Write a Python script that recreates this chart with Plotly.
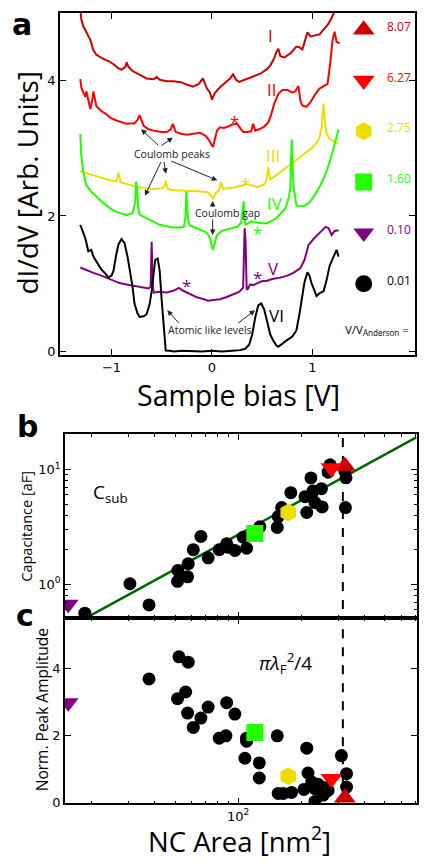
import plotly.graph_objects as go

# ---------------- Panel a: dI/dV spectra ----------------
bias_I = [-1.31, -1.30, -1.28, -1.26, -1.24, -1.21, -1.18, -1.15, -1.08, -1.02, -0.98, -0.93, -0.90, -0.86, -0.85, -0.83, -0.79, -0.72, -0.65, -0.58, -0.55, -0.52, -0.45, -0.38, -0.30, -0.25, -0.19, -0.13, -0.09, -0.05, -0.02, 0.00, 0.03, 0.08, 0.13, 0.18, 0.21, 0.24, 0.27, 0.32, 0.38, 0.44, 0.48, 0.54, 0.58, 0.62, 0.64, 0.66, 0.68, 0.72, 0.78, 0.84, 0.87, 0.90, 0.93, 0.95, 0.98, 1.02, 1.07, 1.11, 1.15, 1.19, 1.23]
didv_I = [5.05, 4.90, 4.80, 4.74, 4.70, 4.60, 4.45, 4.38, 4.32, 4.28, 4.24, 4.18, 4.16, 4.20, 4.27, 4.20, 4.14, 4.09, 4.03, 4.02, 4.05, 4.01, 3.99, 3.99, 3.97, 3.94, 3.91, 3.95, 4.03, 3.88, 3.82, 3.72, 3.82, 3.90, 3.97, 4.03, 4.09, 4.01, 3.98, 4.01, 4.04, 4.07, 4.10, 4.16, 4.22, 4.33, 4.42, 4.47, 4.36, 4.34, 4.40, 4.50, 4.49, 4.46, 4.60, 4.71, 4.65, 4.66, 4.68, 4.75, 4.82, 4.92, 5.06]

bias_II = [-1.31, -1.30, -1.28, -1.26, -1.25, -1.23, -1.21, -1.19, -1.18, -1.15, -1.10, -1.05, -1.00, -0.95, -0.85, -0.77, -0.74, -0.72, -0.70, -0.68, -0.63, -0.58, -0.50, -0.45, -0.41, -0.39, -0.36, -0.30, -0.25, -0.18, -0.12, -0.06, -0.03, 0.00, 0.01, 0.03, 0.05, 0.08, 0.12, 0.16, 0.20, 0.25, 0.28, 0.31, 0.35, 0.39, 0.41, 0.43, 0.47, 0.52, 0.56, 0.59, 0.62, 0.66, 0.70, 0.75, 0.80, 0.83, 0.86, 0.88, 0.90, 0.94, 0.98, 1.02, 1.07, 1.12, 1.15, 1.18, 1.20, 1.22, 1.24, 1.27]
didv_II = [4.02, 3.90, 3.82, 3.76, 3.84, 3.70, 3.58, 3.72, 3.84, 3.62, 3.55, 3.50, 3.44, 3.41, 3.36, 3.37, 3.42, 3.49, 3.40, 3.33, 3.28, 3.26, 3.24, 3.24, 3.28, 3.36, 3.24, 3.21, 3.20, 3.22, 3.23, 3.18, 3.12, 3.04, 3.02, 3.14, 3.26, 3.31, 3.30, 3.32, 3.35, 3.36, 3.30, 3.24, 3.24, 3.25, 3.36, 3.26, 3.28, 3.32, 3.38, 3.50, 3.66, 3.80, 3.86, 3.86, 3.82, 3.84, 3.92, 3.70, 3.63, 3.61, 3.68, 3.78, 3.88, 3.92, 3.95, 4.30, 4.60, 4.72, 4.57, 4.55]

bias_III = [-1.31, -1.24, -1.18, -1.10, -1.02, -0.95, -0.93, -0.91, -0.85, -0.75, -0.65, -0.58, -0.50, -0.47, -0.46, -0.44, -0.38, -0.30, -0.20, -0.10, -0.04, 0.00, 0.01, 0.04, 0.07, 0.09, 0.11, 0.15, 0.22, 0.30, 0.35, 0.40, 0.46, 0.52, 0.54, 0.56, 0.58, 0.62, 0.68, 0.74, 0.81, 0.87, 0.93, 0.99, 1.04, 1.07, 1.09, 1.11, 1.12, 1.14, 1.17, 1.21, 1.26]
didv_III = [2.66, 2.63, 2.60, 2.56, 2.53, 2.51, 2.64, 2.50, 2.47, 2.43, 2.41, 2.40, 2.41, 2.44, 2.52, 2.40, 2.38, 2.38, 2.37, 2.36, 2.35, 2.28, 2.26, 2.34, 2.38, 2.50, 2.40, 2.41, 2.42, 2.45, 2.47, 2.45, 2.43, 2.47, 2.52, 2.72, 2.54, 2.58, 2.65, 2.71, 2.80, 2.86, 2.93, 3.00, 3.08, 3.16, 3.30, 3.66, 3.45, 3.22, 3.14, 3.10, 3.06]

bias_IV = [-1.31, -1.30, -1.28, -1.25, -1.20, -1.14, -1.08, -1.00, -0.95, -0.85, -0.79, -0.765, -0.755, -0.745, -0.735, -0.72, -0.65, -0.58, -0.52, -0.45, -0.39, -0.32, -0.28, -0.265, -0.255, -0.245, -0.235, -0.22, -0.15, -0.10, -0.05, -0.02, 0.00, 0.01, 0.02, 0.05, 0.10, 0.15, 0.20, 0.25, 0.29, 0.305, 0.315, 0.325, 0.335, 0.35, 0.39, 0.45, 0.54, 0.60, 0.64, 0.68, 0.73, 0.76, 0.78, 0.785, 0.795, 0.805, 0.815, 0.84, 0.86, 0.92, 0.97, 1.01, 1.06, 1.11, 1.15, 1.19, 1.22, 1.24, 1.26]
didv_IV = [3.21, 2.90, 2.65, 2.45, 2.36, 2.28, 2.19, 2.10, 2.06, 2.01, 2.04, 2.20, 2.51, 2.40, 2.14, 2.02, 1.97, 1.92, 1.87, 1.85, 1.83, 1.83, 1.84, 1.97, 2.36, 2.10, 1.92, 1.86, 1.82, 1.79, 1.75, 1.68, 1.55, 1.50, 1.56, 1.72, 1.78, 1.80, 1.82, 1.84, 1.90, 2.15, 2.22, 1.95, 1.87, 1.88, 1.92, 1.90, 1.89, 1.93, 1.97, 2.03, 2.11, 2.25, 2.40, 2.80, 3.13, 2.60, 2.40, 2.16, 2.14, 2.15, 2.20, 2.28, 2.40, 2.55, 2.70, 2.89, 3.05, 3.19, 3.28]

bias_V = [-1.31, -1.25, -1.18, -1.10, -1.05, -0.98, -0.92, -0.85, -0.78, -0.70, -0.63, -0.61, -0.60, -0.59, -0.58, -0.52, -0.45, -0.38, -0.33, -0.29, -0.25, -0.20, -0.15, -0.08, -0.04, 0.02, 0.08, 0.14, 0.21, 0.27, 0.31, 0.325, 0.335, 0.345, 0.355, 0.38, 0.41, 0.46, 0.50, 0.54, 0.60, 0.68, 0.75, 0.81, 0.88, 0.92, 0.96, 1.01, 1.06, 1.10, 1.13, 1.16, 1.19, 1.22, 1.26]
didv_V = [1.24, 1.20, 1.16, 1.12, 1.09, 1.05, 1.01, 0.99, 0.97, 0.95, 0.93, 0.96, 1.62, 0.99, 0.87, 0.88, 0.87, 0.90, 0.94, 0.90, 0.87, 0.84, 0.80, 0.77, 0.75, 0.76, 0.77, 0.80, 0.84, 0.88, 0.94, 1.82, 1.60, 0.92, 0.92, 0.99, 0.98, 1.01, 1.04, 1.04, 1.07, 1.09, 1.12, 1.16, 1.23, 1.35, 1.57, 1.66, 1.74, 1.80, 1.84, 1.82, 1.72, 1.78, 1.79]

bias_VI = [-1.31, -1.28, -1.26, -1.23, -1.20, -1.18, -1.15, -1.12, -1.10, -1.06, -1.03, -1.00, -0.98, -0.95, -0.93, -0.90, -0.87, -0.84, -0.82, -0.79, -0.77, -0.74, -0.72, -0.68, -0.65, -0.62, -0.60, -0.58, -0.565, -0.54, -0.52, -0.50, -0.48, -0.47, -0.46, -0.42, -0.38, -0.30, -0.20, -0.10, 0.00, 0.10, 0.20, 0.28, 0.33, 0.37, 0.40, 0.43, 0.46, 0.49, 0.52, 0.55, 0.58, 0.61, 0.64, 0.66, 0.70, 0.74, 0.80, 0.84, 0.87, 0.89, 0.92, 0.95, 0.97, 0.99, 1.02, 1.04, 1.07, 1.11, 1.14, 1.17, 1.21, 1.24, 1.26]
didv_VI = [1.87, 1.75, 1.67, 1.48, 1.50, 1.40, 1.33, 1.26, 1.21, 1.15, 1.09, 1.12, 1.19, 1.45, 1.58, 1.66, 1.60, 1.40, 1.23, 0.95, 0.70, 0.56, 0.51, 0.52, 0.55, 0.70, 0.89, 1.20, 1.35, 1.37, 1.19, 0.75, 0.36, 0.10, 0.014, 0.01, 0.0, 0.01, 0.0, 0.0, 0.01, 0.0, 0.01, 0.02, 0.04, 0.10, 0.25, 0.50, 0.68, 0.71, 0.62, 0.45, 0.25, 0.16, 0.09, 0.07, 0.12, 0.16, 0.22, 0.31, 0.55, 0.75, 1.02, 1.17, 1.12, 1.01, 0.90, 0.82, 0.86, 0.89, 1.05, 1.26, 1.40, 1.50, 1.40]

curve_names = ["I", "II", "III", "IV", "V", "VI"]
ratio_labels = ["8.07", "6.27", "2.75", "1.60", "0.10", "0.01"]
legend_rows = [4.75, 4.0, 3.25, 2.5, 1.75, 1.0]   # dI/dV level of each key row

# ---------------- Panels b, c ----------------
b_area = [18.6, 30.5, 37.6, 51.4, 51.6, 57.4, 57.8, 61.1, 66.4, 71.9, 81.2, 88.1, 89.3, 96.4, 105.6, 109.6, 126.8, 153.4, 155, 161, 178, 212, 208, 224, 222, 227, 232, 249, 251, 268, 274, 324, 326, 322]
b_cap = [0.56, 1.01, 0.66, 1.06, 1.32, 1.16, 1.51, 2.0, 2.61, 1.70, 2.0, 2.25, 2.1, 1.97, 2.57, 2.06, 3.17, 3.13, 3.89, 4.66, 6.28, 4.22, 5.8, 6.08, 8.45, 6.5, 5.14, 6.8, 4.72, 9.48, 11.0, 4.66, 8.46, 9.67]

c_area = [37.6, 52.2, 57.8, 51.4, 56.2, 57.4, 61.1, 66.4, 71.9, 81.2, 87.4, 88.1, 96.4, 109.6, 109.6, 107.6, 126, 126, 153.4, 155, 164, 179.5, 212, 215, 205.6, 224, 232, 232, 240, 249, 254, 258, 262, 268, 310, 328, 328]
c_amp = [3.70, 4.36, 4.20, 3.11, 3.31, 2.68, 2.25, 2.53, 2.86, 1.93, 2.00, 2.99, 2.65, 1.93, 1.84, 1.33, 1.19, 0.74, 2.00, 0.28, 0.28, 0.31, 1.63, 0.89, 0.40, 0.62, 0.42, 0.04, 0.55, 0.47, 0.23, 0.30, 0.45, 0.37, 1.41, 0.87, 0.47]

# highlighted nanocrystals (same order as ratio_labels, minus the black one)
sp_area = [322, 278, 173, 120, 15.5]
sp_cap = [10.7, 10.3, 4.22, 2.77, 0.67]
sp_amp = [0.15, 0.72, 0.79, 2.10, 2.99]

fit_coef = 0.027          # C = fit_coef * A
fit_area = [15, 705]
anderson_area = 315

# ---------------- styling ----------------
col = ["#cc0000", "#ff0000", "#eedd00", "#22ff00", "#800080", "#000000"]
sym = ["triangle-up", "triangle-down", "hexagon", "square", "triangle-down", "circle"]
sp_size = [19, 19, 18, 17, 18, 17]

# page body has an 8 px margin: lay the figure out in page pixels shifted by it
OFF = 8
W, H = 436 - OFF, 866 - OFF
def px(x): return (x - OFF) / W
def py(y): return 1 - (y - OFF) / H

TFONT = "DejaVu Sans"
LFONT = "Open Sans"

fig = go.Figure()

curves = [(bias_I, didv_I), (bias_II, didv_II), (bias_III, didv_III),
          (bias_IV, didv_IV), (bias_V, didv_V), (bias_VI, didv_VI)]
for (bx, by), c in zip(curves, col):
    fig.add_trace(go.Scatter(x=bx, y=by, mode="lines", line=dict(color=c, width=2),
                             xaxis="x", yaxis="y", showlegend=False, hoverinfo="skip"))

# key markers in panel a
for i in range(6):
    fig.add_trace(go.Scatter(x=[1.51], y=[legend_rows[i]], mode="markers",
                             marker=dict(symbol=sym[i], color=col[i], size=sp_size[i], line=dict(width=0)),
                             xaxis="x", yaxis="y", showlegend=False, hoverinfo="skip"))

# panel b
fit_cap = [fit_coef * a for a in fit_area]
fig.add_trace(go.Scatter(x=fit_area, y=fit_cap, mode="lines", line=dict(color="#006600", width=2.5),
                         xaxis="x2", yaxis="y2", showlegend=False))
fig.add_trace(go.Scatter(x=b_area, y=b_cap, mode="markers", marker=dict(color="black", size=13),
                         xaxis="x2", yaxis="y2", showlegend=False))
fig.add_trace(go.Scatter(x=[anderson_area, anderson_area], y=[0.1, 100], mode="lines",
                         line=dict(color="black", width=2, dash="dash"),
                         xaxis="x2", yaxis="y2", showlegend=False))
for i in range(5):
    fig.add_trace(go.Scatter(x=[sp_area[i]], y=[sp_cap[i]], mode="markers",
                             marker=dict(symbol=sym[i], color=col[i], size=sp_size[i], line=dict(width=0)),
                             xaxis="x2", yaxis="y2", showlegend=False))

# panel c
fig.add_trace(go.Scatter(x=c_area, y=c_amp, mode="markers", marker=dict(color="black", size=13),
                         xaxis="x3", yaxis="y3", showlegend=False))
fig.add_trace(go.Scatter(x=[anderson_area, anderson_area], y=[-1, 10], mode="lines",
                         line=dict(color="black", width=2, dash="dash"),
                         xaxis="x3", yaxis="y3", showlegend=False))
for i in range(5):
    fig.add_trace(go.Scatter(x=[sp_area[i]], y=[sp_amp[i]], mode="markers",
                             marker=dict(symbol=sym[i], color=col[i], size=sp_size[i], line=dict(width=0)),
                             xaxis="x3", yaxis="y3", showlegend=False))

axis_common = dict(showline=True, linecolor="black", linewidth=1.5, mirror="ticks",
                   ticks="inside", ticklen=6, tickwidth=1, tickcolor="black",
                   showgrid=False, zeroline=False, tickfont=dict(family=TFONT, size=13, color="black"))

log_minor_x = [20, 30, 40, 50, 60, 70, 80, 90, 200, 300, 400, 500, 600, 700]
log_minor_y = [0.6, 0.7, 0.8, 0.9, 2, 3, 4, 5, 6, 7, 8, 9, 20]

fig.update_layout(
    width=W, height=H, margin=dict(l=0, r=0, t=0, b=0),
    paper_bgcolor="white", plot_bgcolor="white", showlegend=False,
    xaxis=dict(domain=[px(60), px(415)], range=[-1.512, 2.02], anchor="y",
               tickvals=[-1, 0, 1], ticktext=["\u22121", "0", "1"], **axis_common),
    yaxis=dict(domain=[py(358), py(13)], range=[-0.054, 4.997], anchor="x",
               tickvals=[0, 2, 4], **axis_common),
    xaxis2=dict(domain=[px(65), px(416.7)], type="log", range=[1.175, 2.85], anchor="y2",
                tickvals=[100], showticklabels=False,
                minor=dict(tickvals=log_minor_x, ticks="inside", ticklen=3, tickcolor="black"),
                **axis_common),
    yaxis2=dict(domain=[py(623), py(438)], type="log", range=[-0.294, 1.305], anchor="x2",
                tickvals=[1, 10], ticktext=["10<sup>0</sup>", "10<sup>1</sup>"],
                minor=dict(tickvals=log_minor_y, ticks="inside", ticklen=3, tickcolor="black"),
                **axis_common),
    xaxis3=dict(domain=[px(65), px(416.7)], type="log", range=[1.175, 2.85], anchor="y3",
                tickvals=[100], ticktext=["10<sup>2</sup>"],
                minor=dict(tickvals=log_minor_x, ticks="inside", ticklen=3, tickcolor="black"),
                **axis_common),
    yaxis3=dict(domain=[py(810), py(623)], range=[-0.02, 5.52], anchor="x3",
                tickvals=[0, 2, 4], **axis_common),
)

ann = []
def txt(x, y, text, size, color="black", ref="data", family=LFONT, **kw):
    d = dict(x=x, y=y, text=text, showarrow=False, xanchor="center", yanchor="middle",
             font=dict(family=family, size=size, color=color))
    if ref == "data":
        d.update(xref="x", yref="y")
    else:
        d.update(xref="paper", yref="paper")
    d.update(kw)
    ann.append(d)

def arrow(x0, y0, x1, y1):
    ann.append(dict(x=x1, y=y1, ax=x0, ay=y0, xref="x", yref="y", axref="x", ayref="y",
                    text="", showarrow=True, arrowhead=2, arrowsize=1.1, arrowwidth=1,
                    arrowcolor="#222222"))

# curve labels
label_pos = [(0.58, 4.66), (0.60, 3.87), (0.61, 2.90), (0.63, 2.19), (0.61, 1.23), (0.64, 0.53)]
for (lx, ly), name, c in zip(label_pos, curve_names, col):
    txt(lx, ly, name, 17, c)

# stars
for (sx, sy), c in zip([(0.22, 3.46), (0.335, 2.55), (0.455, 1.82), (-0.25, 1.05), (0.455, 1.16)],
                       [col[1], col[2], col[3], col[4], col[4]]):
    txt(sx, sy - 0.07, "*", 17, c)

# key labels
for i in range(6):
    txt(1.72, legend_rows[i] + 0.05, ratio_labels[i], 12, col[i], xanchor="left")
txt(1.98, 0.31, "V/V<sub>Anderson</sub> =", 11.5, "black", xanchor="right")

# annotations text
txt(-0.40, 2.92, "Coulomb peaks", 10.5, "#222222")
txt(0.15, 2.05, "Coulomb gap", 10.5, "#222222")
txt(-0.02, 0.31, "Atomic like levels", 10.5, "#222222")

arrow(-0.517, 3.02, -0.706, 3.28)
arrow(-0.517, 3.02, -0.39, 3.16)
arrow(-0.50, 2.82, -0.667, 2.30)
arrow(-0.48, 2.82, -0.458, 2.625)
arrow(-0.42, 2.82, 0.053, 2.527)
arrow(0.007, 2.11, 0.007, 2.22)
arrow(0.007, 1.97, 0.007, 1.72)
arrow(-0.318, 0.40, -0.445, 0.61)
arrow(0.245, 0.40, 0.428, 0.61)

# axis titles
txt(px(27), py(184), "dI/dV [Arb. Units]", 28, ref="paper", textangle=-90)
txt(px(238), py(398), "Sample bias [V]", 28.5, ref="paper")
txt(px(27), py(531), "Capacitance [aF]", 14.5, ref="paper", textangle=-90)
txt(px(42), py(716), "Norm. Peak Amplitude", 15.5, ref="paper", textangle=-90)
txt(px(240), py(846), "NC Area [nm<sup>2</sup>]", 27.5, ref="paper")

# inset texts
txt(px(110), py(497), "C<sub>sub</sub>", 19, ref="paper")
txt(px(285), py(668), "<i>\u03c0\u03bb</i><sub>F</sub><sup>2</sup>/4", 19, ref="paper")

# panel letters
txt(px(22), py(25), "<b>a</b>", 30, ref="paper", family="DejaVu Sans")
txt(px(27), py(430), "<b>b</b>", 30, ref="paper", family="DejaVu Sans")
txt(px(25), py(620), "<b>c</b>", 30, ref="paper", family="DejaVu Sans")

fig.update_layout(annotations=ann)
fig.write_html("out.html")
